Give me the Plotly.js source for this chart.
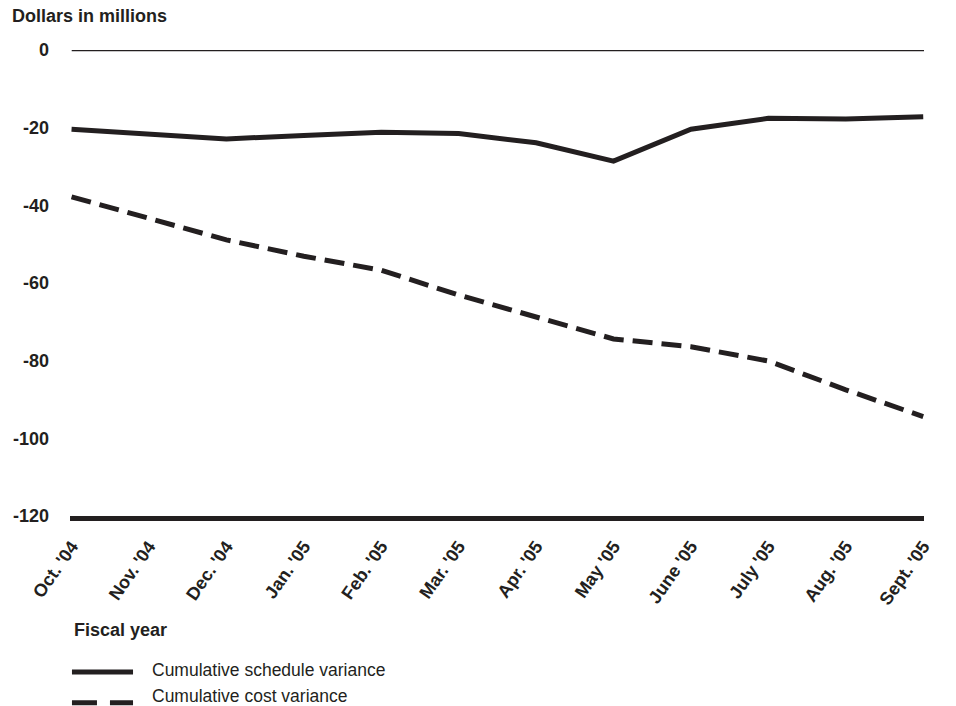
<!DOCTYPE html>
<html><head><meta charset="utf-8">
<script src="https://cdn.plot.ly/plotly-3.0.1.min.js"></script>
<style>html,body{margin:0;padding:0;background:#fff}#chart{width:956px;height:706px}</style>
</head><body><div id="chart"></div>
<script>
const months = ["Oct. '04","Nov. '04","Dec. '04","Jan. '05","Feb. '05","Mar. '05","Apr. '05","May '05","June '05","July '05","Aug. '05","Sept. '05"];
const scheduleVariance = [-20.4,-21.7,-22.9,-22.0,-21.2,-21.5,-23.9,-28.6,-20.4,-17.6,-17.8,-17.2];
const costVariance = [-37.8,-43.4,-48.9,-53.1,-56.7,-63.1,-68.7,-74.4,-76.4,-80.1,-87.5,-94.4];
const seriesNames = ["Cumulative schedule variance","Cumulative cost variance"];
const yTicks = [0,-20,-40,-60,-80,-100,-120];
const yTitle = "Dollars in millions";
const xTitle = "Fiscal year";

const ink = "#231f20";
const fam = "Liberation Sans, Arial, Helvetica, sans-serif";

const traces = [
  {x: months, y: scheduleVariance, name: seriesNames[0], type: "scatter", mode: "lines",
   line: {color: ink, width: 5}},
  {x: months, y: costVariance, name: seriesNames[1], type: "scatter", mode: "lines",
   line: {color: ink, width: 5, dash: "20px,9px"}}
];

const layout = {
  width: 956, height: 706,
  margin: {l: 70, r: 32, t: 50, b: 190},
  paper_bgcolor: "#fff", plot_bgcolor: "#fff",
  showlegend: false,
  font: {family: fam, color: ink, size: 18},
  title: {text: yTitle, x: 12/956, xanchor: "left", y: 1 - 16/706, yanchor: "middle",
          font: {family: fam, size: 18, weight: "bold", color: ink}},
  xaxis: {type: "category", range: [-0.02, 11.01], showgrid: false, zeroline: false,
          showline: true, linewidth: 4.5, linecolor: ink, ticks: "",
          tickangle: -55, ticklabelstandoff: 8,
          tickfont: {family: fam, size: 18, weight: "bold", color: ink}},
  yaxis: {range: [-120, 0], tickvals: yTicks, ticktext: yTicks.map(String),
          showgrid: false, zeroline: false, showline: false, ticks: "",
          ticklabelstandoff: 20,
          tickfont: {family: fam, size: 18, weight: "bold", color: ink}},
  shapes: [
    {type: "line", xref: "paper", yref: "y", x0: 0.002, x1: 1, y0: 0, y1: 0,
     line: {color: ink, width: 2.5}},
    {type: "line", xref: "paper", yref: "paper", x0: 0.0023, x1: 0.0738, y0: -0.3348, y1: -0.3348,
     line: {color: ink, width: 5}},
    {type: "line", xref: "paper", yref: "paper", x0: 0.0023, x1: 0.0738, y0: -0.401, y1: -0.401,
     line: {color: ink, width: 5, dash: "25px,13px"}}
  ],
  annotations: [
    {xref: "paper", yref: "paper", x: 0.0023, y: -0.2446, xanchor: "left", yanchor: "middle",
     text: xTitle, showarrow: false, font: {family: fam, size: 18, weight: "bold", color: ink}},
    {xref: "paper", yref: "paper", x: 0.0937, y: -0.330, xanchor: "left", yanchor: "middle",
     text: seriesNames[0], showarrow: false, font: {family: fam, size: 17.5, color: ink}},
    {xref: "paper", yref: "paper", x: 0.0937, y: -0.386, xanchor: "left", yanchor: "middle",
     text: seriesNames[1], showarrow: false, font: {family: fam, size: 17.5, color: ink}}
  ]
};

Plotly.newPlot("chart", traces, layout, {displayModeBar: false, responsive: false});
</script>
</body></html>
